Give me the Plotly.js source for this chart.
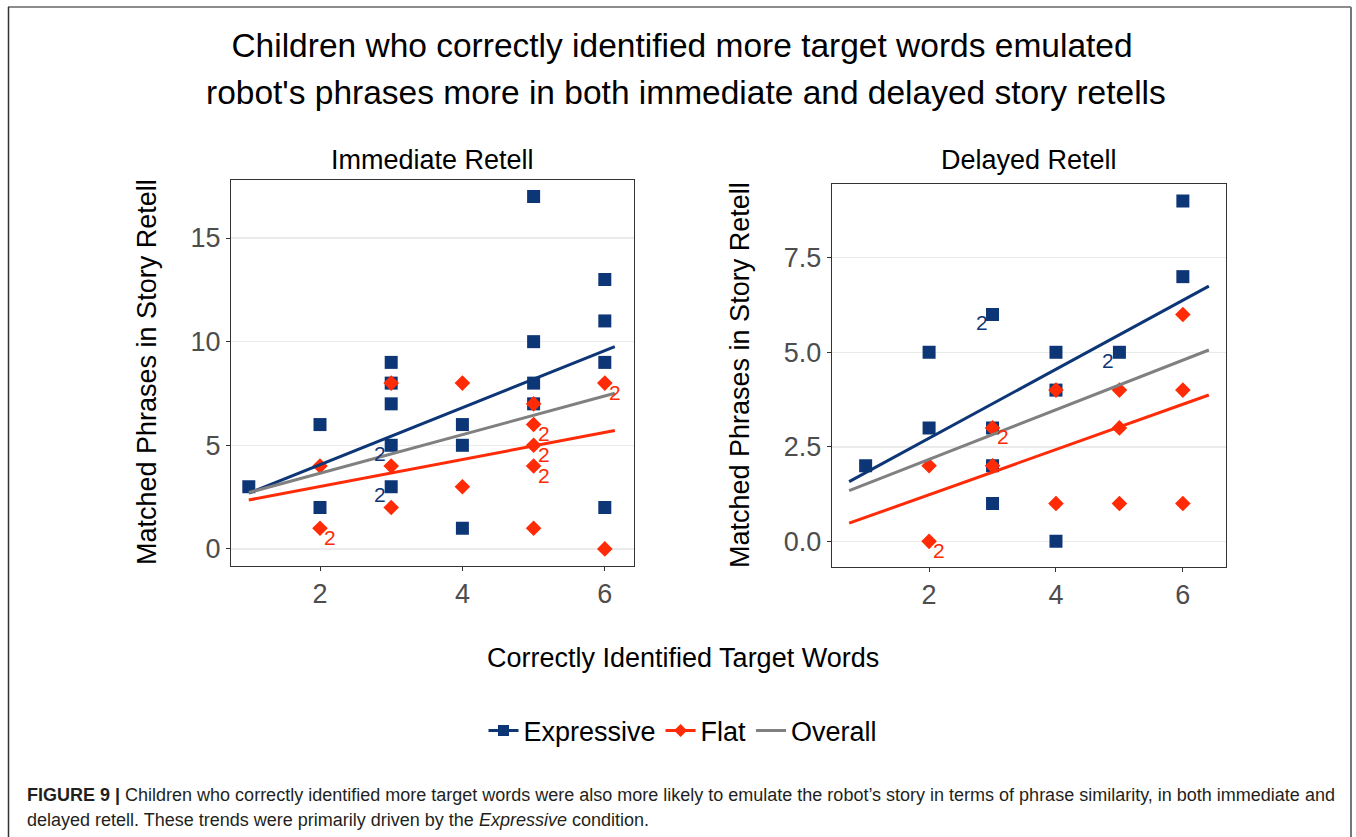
<!DOCTYPE html>
<html><head><meta charset="utf-8">
<script src="https://cdn.plot.ly/plotly-3.0.1.min.js"></script>
<style>html,body{margin:0;padding:0;background:#fff}</style>
</head><body><div id="chart" style="width:1356px;height:837px"></div>
<script>
// ---------- text ----------
const titleLine1 = "Children who correctly identified more target words emulated";
const titleLine2 = "robot's phrases more in both immediate and delayed story retells";
const panelTitles = ["Immediate Retell", "Delayed Retell"];
const yTitle = "Matched Phrases in Story Retell";
const xTitle = "Correctly Identified Target Words";
const seriesNames = ["Expressive", "Flat", "Overall"];
const captionLine1 = "<b>FIGURE 9 |</b> Children who correctly identified more target words were also more likely to emulate the robot\u2019s story in terms of phrase similarity, in both immediate and";
const captionLine2 = "delayed retell. These trends were primarily driven by the <i>Expressive</i> condition.";

// ---------- ticks ----------
const immXTicks = [2, 4, 6];
const immYTicks = [0, 5, 10, 15];
const delXTicks = [2, 4, 6];
const delYTicks = [0, 2.5, 5, 7.5];
const delYTickText = ["0.0", "2.5", "5.0", "7.5"];

// ---------- Immediate retell points (n = number of overlapping children) ----------
const immExprX = [1, 2, 2, 3, 3, 3, 3, 3, 4, 4, 4, 5, 5, 5, 5, 6, 6, 6, 6];
const immExprY = [3, 6, 2, 9, 8, 7, 5, 3, 6, 5, 1, 17, 10, 8, 7, 13, 11, 9, 2];
const immExprN = [1, 1, 1, 1, 1, 1, 2, 2, 1, 1, 1, 1, 1, 1, 1, 1, 1, 1, 1];
const immFlatX = [2, 2, 3, 3, 3, 4, 4, 5, 5, 5, 5, 5, 6, 6];
const immFlatY = [4, 1, 8, 4, 2, 8, 3, 7, 6, 5, 4, 1, 8, 0];
const immFlatN = [1, 2, 1, 1, 1, 1, 1, 1, 2, 2, 2, 1, 2, 1];

// ---------- Delayed retell points ----------
const delExprX = [1, 2, 2, 3, 3, 3, 3, 4, 4, 4, 5, 6, 6];
const delExprY = [2, 5, 3, 6, 3, 2, 1, 5, 4, 0, 5, 9, 7];
const delExprN = [1, 1, 1, 2, 1, 1, 1, 1, 1, 1, 2, 1, 1];
const delFlatX = [2, 2, 3, 3, 4, 4, 5, 5, 5, 6, 6, 6];
const delFlatY = [2, 0, 3, 2, 4, 1, 4, 3, 1, 6, 4, 1];
const delFlatN = [1, 2, 2, 1, 1, 1, 1, 1, 1, 1, 1, 1];

// ---------- fitted trend lines (endpoints) ----------
const immLineX = [1.0, 6.14];
const immExprFit = [2.69, 9.76];
const immFlatFit = [2.36, 5.71];
const immAllFit = [2.72, 7.51];
const delLineX = [0.74, 6.41];
const delExprFit = [1.58, 6.75];
const delFlatFit = [0.48, 3.87];
const delAllFit = [1.34, 5.06];

// ---------- styling ----------
const W = 1356, H = 837;
const BLUE = "#0d3677", RED = "#ff2a06", GRAY = "#808080";
const FONT = "Liberation Sans, Arial, sans-serif";
const px = v => v / W;
const py = v => 1 - v / H;

function pts(x, y, color, symbol, size, xa, ya) {
  return {x: x, y: y, xaxis: xa, yaxis: ya, type: "scatter", mode: "markers",
    marker: {color: color, symbol: symbol, size: size}, showlegend: false, hoverinfo: "x+y"};
}
function fit(x, y, color, xa, ya) {
  return {x: x, y: y, xaxis: xa, yaxis: ya, type: "scatter", mode: "lines",
    line: {color: color, width: 3}, showlegend: false, hoverinfo: "skip"};
}
const traces = [
  pts(immExprX, immExprY, BLUE, "square", 13, "x", "y"),
  pts(immFlatX, immFlatY, RED, "diamond", 12, "x", "y"),
  fit(immLineX, immExprFit, BLUE, "x", "y"),
  fit(immLineX, immFlatFit, RED, "x", "y"),
  fit(immLineX, immAllFit, GRAY, "x", "y"),
  pts(delExprX, delExprY, BLUE, "square", 13, "x2", "y2"),
  pts(delFlatX, delFlatY, RED, "diamond", 12, "x2", "y2"),
  fit(delLineX, delExprFit, BLUE, "x2", "y2"),
  fit(delLineX, delFlatFit, RED, "x2", "y2"),
  fit(delLineX, delAllFit, GRAY, "x2", "y2"),
  // legend entries
  {x: [null], y: [null], type: "scatter", mode: "lines+markers", name: seriesNames[0],
   line: {color: BLUE, width: 3}, marker: {color: BLUE, symbol: "square", size: 11}},
  {x: [null], y: [null], type: "scatter", mode: "lines+markers", name: seriesNames[1],
   line: {color: RED, width: 3}, marker: {color: RED, symbol: "diamond", size: 10}},
  {x: [null], y: [null], type: "scatter", mode: "lines", name: seriesNames[2],
   line: {color: GRAY, width: 3}}
];

const annotations = [];
function countLabels(x, y, n, color, xa, ya, dx, dy) {
  for (let i = 0; i < x.length; i++) {
    if (n[i] > 1) annotations.push({x: x[i], y: y[i], xref: xa, yref: ya, text: String(n[i]),
      showarrow: false, xshift: dx, yshift: dy, font: {family: FONT, size: 21, color: color}});
  }
}
countLabels(immExprX, immExprY, immExprN, BLUE, "x", "y", -11, -8);
countLabels(immFlatX, immFlatY, immFlatN, RED, "x", "y", 10, -9);
countLabels(delExprX, delExprY, delExprN, BLUE, "x2", "y2", -11, -8);
countLabels(delFlatX, delFlatY, delFlatN, RED, "x2", "y2", 10, -9);

const txt = (text, x, y, size, extra) => Object.assign({text: text, x: px(x), y: py(y), xref: "paper", yref: "paper",
  showarrow: false, xanchor: "center", yanchor: "middle", font: {family: FONT, size: size, color: "#000"}}, extra || {});
annotations.push(txt(titleLine2, 686, 92, 33.5));
annotations.push(txt(panelTitles[0], 432.5, 160, 27));
annotations.push(txt(panelTitles[1], 1029, 160, 27));
annotations.push(txt(yTitle, 147, 372, 27, {textangle: -90}));
annotations.push(txt(yTitle, 740, 375, 27, {textangle: -90}));
annotations.push(txt(xTitle, 683, 658, 27));
annotations.push(txt(captionLine1, 25, 795, 18, {xanchor: "left", font: {family: FONT, size: 18, color: "#231f20"}}));
annotations.push(txt(captionLine2, 25, 820, 18, {xanchor: "left", font: {family: FONT, size: 18, color: "#231f20"}}));

const axBase = {showgrid: false, zeroline: false, showline: true, mirror: true, linecolor: "#333333", linewidth: 1,
  ticks: "outside", ticklen: 4, tickcolor: "#333333", tickwidth: 1, automargin: false,
  tickfont: {family: FONT, size: 27, color: "#4d4d4d"}, fixedrange: true};

const layout = {
  width: W, height: H, margin: {l: 0, r: 0, t: 0, b: 0}, paper_bgcolor: "#fff", plot_bgcolor: "#fff",
  font: {family: FONT},
  title: {text: titleLine1, x: px(682), xanchor: "center", y: py(45), yanchor: "middle", yref: "container",
    font: {family: FONT, size: 33.5, color: "#000"}},
  xaxis: Object.assign({}, axBase, {domain: [px(231), px(634)], range: [0.75, 6.41], tickvals: immXTicks, anchor: "y"}),
  yaxis: Object.assign({}, axBase, {domain: [py(565.5), py(180)], range: [-0.8, 17.8], tickvals: immYTicks,
    showgrid: true, gridcolor: "#ebebeb", gridwidth: 1.5, anchor: "x"}),
  xaxis2: Object.assign({}, axBase, {domain: [px(831.7), px(1226)], range: [0.465, 6.68], tickvals: delXTicks, anchor: "y2"}),
  yaxis2: Object.assign({}, axBase, {domain: [py(566.7), py(184)], range: [-0.67, 9.45], tickvals: delYTicks,
    ticktext: delYTickText, showgrid: true, gridcolor: "#ebebeb", gridwidth: 1.5, anchor: "x2"}),
  showlegend: true,
  legend: {orientation: "h", x: px(683), xanchor: "center", y: py(731), yanchor: "middle",
    font: {family: FONT, size: 27, color: "#000"}, bgcolor: "rgba(0,0,0,0)"},
  annotations: annotations,
  shapes: [
    {type: "line", xref: "paper", yref: "paper", x0: px(8), x1: px(1351), y0: py(7), y1: py(7), line: {color: "#8c8c8c", width: 2}},
    {type: "line", xref: "paper", yref: "paper", x0: px(8.5), x1: px(8.5), y0: py(7), y1: -0.05, line: {color: "#333", width: 1.5}},
    {type: "line", xref: "paper", yref: "paper", x0: px(1351), x1: px(1351), y0: py(7), y1: -0.05, line: {color: "#777", width: 2}}
  ]
};
Plotly.newPlot("chart", traces, layout, {displayModeBar: false, staticPlot: true});
</script></body></html>
